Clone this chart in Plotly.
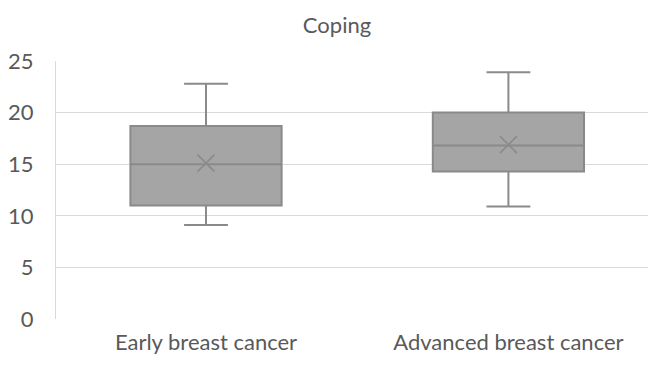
import plotly.graph_objects as go

categories = ["Early breast cancer", "Advanced breast cancer"]
lower_whisker = [9.1, 10.9]
q1_values = [11.0, 14.3]
median_values = [15.0, 16.8]
q3_values = [18.7, 20.0]
upper_whisker = [22.8, 23.9]
mean_values = [15.1, 16.9]
y_ticks = [0, 5, 10, 15, 20, 25]

FILL = "#a5a5a5"
LINE = "#8a8a8a"
TEXT = "#595959"
GRID = "#d9d9d9"
FONT = "Lato"
FS = 22

fig = go.Figure()
fig.add_trace(go.Box(
    x=categories,
    q1=q1_values, median=median_values, q3=q3_values,
    lowerfence=lower_whisker, upperfence=upper_whisker,
    fillcolor=FILL,
    line=dict(color=LINE, width=2),
    width=0.5,
    whiskerwidth=0.29,
    boxpoints=False,
    showlegend=False,
    hoverinfo="skip",
))
fig.add_trace(go.Scatter(
    x=categories, y=mean_values, mode="markers",
    marker=dict(symbol="x-thin", size=17, line=dict(color=LINE, width=1.6)),
    showlegend=False, hoverinfo="skip",
))

# page body has an 8px margin; compensate so plot area lands at x 51..656, y 61..319
fig.update_layout(
    width=648, height=357,
    margin=dict(l=43, r=0, t=53, b=46),
    paper_bgcolor="white", plot_bgcolor="white",
    font=dict(family=FONT, color=TEXT, size=FS),
    title=dict(text="Coping", x=(337 - 8) / 648, xanchor="center", y=1 - 17 / 357, yanchor="middle",
               font=dict(family=FONT, size=FS, color=TEXT)),
)
fig.update_xaxes(
    type="category", range=[-0.496, 1.488],
    showgrid=False, showline=False, zeroline=False,
    ticks="", tickfont=dict(size=FS, color=TEXT), ticklabelstandoff=8,
)
fig.update_yaxes(
    range=[0, 25], tickvals=y_ticks,
    showgrid=True, gridcolor=GRID, gridwidth=1.2,
    zeroline=False, showline=True, linecolor=GRID, linewidth=1.2,
    ticks="", tickfont=dict(size=FS, color=TEXT), ticklabelstandoff=17,
)

fig.write_html("out.html")
